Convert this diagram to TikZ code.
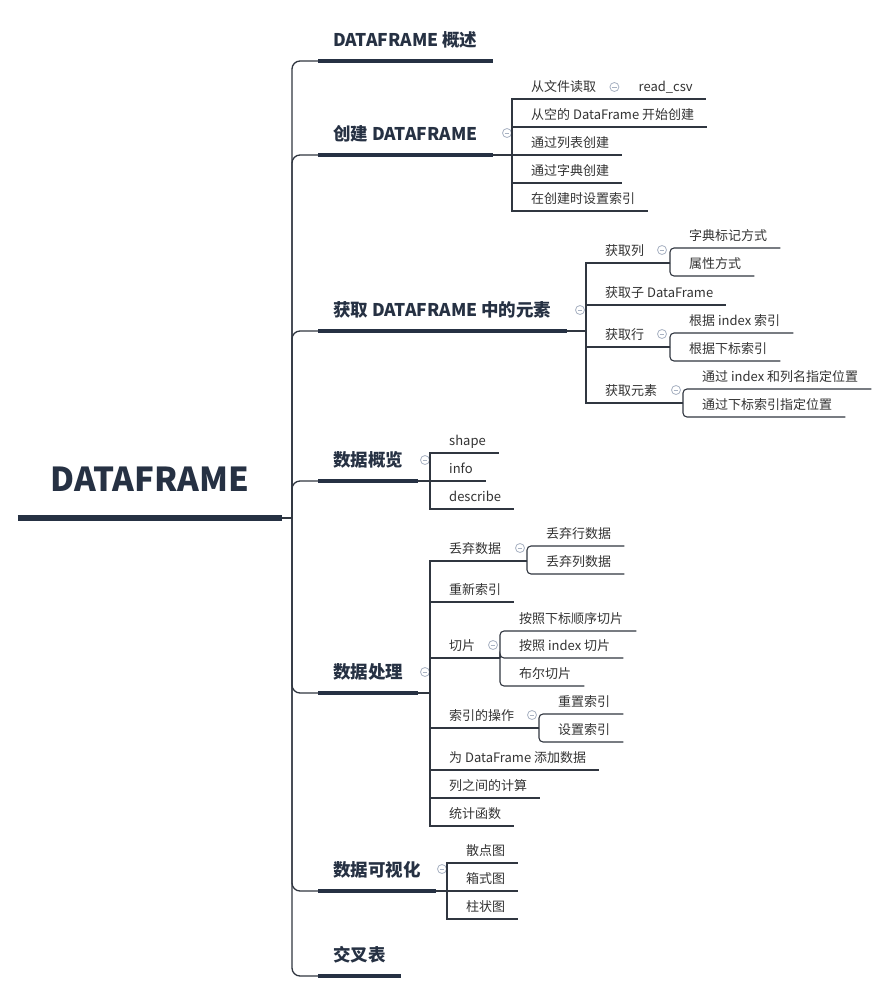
\documentclass[tikz,border=0pt]{standalone}
\usepackage{fontspec}
\setmainfont{Noto Sans CJK SC}
\usetikzlibrary{calc,positioning}
\definecolor{MapNavy}{RGB}{38,49,67}
\definecolor{MapInk}{RGB}{51,51,51}
\definecolor{MapLine}{RGB}{48,54,64}
\definecolor{MapFold}{RGB}{168,178,194}
\tikzset{
  dfm/root/.style={
    anchor=south,
    minimum width=264,
    inner xsep=0,
    inner ysep=26,
    text depth=0pt,
    text=MapNavy,
    font=\fontsize{33}{36}\selectfont\bfseries
  },
  dfm/branch/.style={
    anchor=south west,
    inner xsep=15,
    inner ysep=11.5,
    text height=13,
    text depth=3,
    text=MapNavy,
    font=\fontsize{17.5}{20}\selectfont\bfseries
  },
  dfm/leaf/.style={
    anchor=south west,
    inner xsep=13,
    inner ysep=4.5,
    text height=10,
    text depth=2.5,
    text=MapInk,
    font=\fontsize{13}{15}\selectfont,
    execute at begin node={\hspace*{6pt}}
  },
  dfm/fold/.style={
    circle,
    draw=MapFold,
    fill=white,
    line width=0.8,
    minimum size=9,
    inner sep=0,
    path picture={\draw[MapFold,line width=0.8] ([xshift=-2.3pt]path picture bounding box.center) -- ([xshift=2.3pt]path picture bounding box.center);}
  },
  dfm/rootbar/.style={line width=5.5, draw=MapNavy},
  dfm/bar/.style={line width=4, draw=MapNavy},
  dfm/spine/.style={line width=1.3, draw=MapLine, rounded corners=8},
  dfm/line/.style={line width=1.1, draw=MapLine},
  dfm/twig/.style={dfm/line, rounded corners=4}
}
\begin{document}
\begin{tikzpicture}[x=1pt,y=-1pt]
  \fill[white] (0,0) rectangle (886,993);
  \useasboundingbox (0,0) rectangle (886,993);

  \node[dfm/root] (root) at (150,518) {DATAFRAME};
  \coordinate (hub) at (292,518);
  \draw[dfm/rootbar] (root.south west) -- (root.south east);
  \draw[dfm/line] (root.south east) -- (hub);

  \node[dfm/branch] (b1) at (318,61) {DATAFRAME 概述};
  \node[dfm/branch] (b2) at (318,155) {创建 DATAFRAME};
  \node[dfm/branch] (b3) at (318,331) {获取 DATAFRAME 中的元素};
  \node[dfm/branch] (b4) at (318,481) {数据概览};
  \node[dfm/branch] (b5) at (318,693) {数据处理};
  \node[dfm/branch] (b6) at (318,891) {数据可视化};
  \node[dfm/branch] (b7) at (318,976) {交叉表};
  \foreach \b in {b1,b2,b3,b4,b5,b6,b7}{
    \draw[dfm/spine] (hub) |- (\b.south west);
    \draw[dfm/bar] (\b.south west) -- (\b.south east);
  }

  % 创建 DATAFRAME
  \coordinate (j2) at (512,155);
  \draw[dfm/line] (b2.south east) -- (j2);
  \node[dfm/fold] (f2) at ($(j2)+(-5,-22)$) {};
  \node[dfm/leaf] (c21) at (512,99) {从文件读取};
  \node[dfm/leaf] (c22) at (512,127) {从空的 DataFrame 开始创建};
  \node[dfm/leaf] (c23) at (512,155) {通过列表创建};
  \node[dfm/leaf] (c24) at (512,183) {通过字典创建};
  \node[dfm/leaf] (c25) at (512,211) {在创建时设置索引};
  \foreach \c in {c21,c22,c23,c24,c25}
    \draw[dfm/line] (j2) |- (\c.south east);
  \node[dfm/leaf] (g211) at ($(c21.south east)+(10,0)$) {read\_csv};
  \node[dfm/fold] (f21) at ($(c21.south east)+(5,-12)$) {};
  \draw[dfm/line] (c21.south east) -- (g211.south east);

  % 获取 DATAFRAME 中的元素
  \coordinate (j3) at (586,331);
  \draw[dfm/line] (b3.south east) -- (j3);
  \node[dfm/fold] (f3) at ($(j3)+(-6,-21)$) {};
  \node[dfm/leaf] (c31) at (586,263) {获取列};
  \node[dfm/leaf] (c32) at (586,305) {获取子 DataFrame};
  \node[dfm/leaf] (c33) at (586,347) {获取行};
  \node[dfm/leaf] (c34) at (586,403) {获取元素};
  \foreach \c in {c31,c32,c33,c34}
    \draw[dfm/line] (j3) |- (\c.south east);

  \coordinate (j31) at (670,263);
  \draw[dfm/line] (c31.south east) -- (j31);
  \node[dfm/fold] (f31) at ($(j31)+(-8,-13)$) {};
  \node[dfm/leaf] (g311) at (670,248) {字典标记方式};
  \node[dfm/leaf] (g312) at (670,276) {属性方式};
  \foreach \g in {g311,g312}
    \draw[dfm/twig] (j31) |- (\g.south east);

  \coordinate (j33) at (670,347);
  \draw[dfm/line] (c33.south east) -- (j33);
  \node[dfm/fold] (f33) at ($(j33)+(-8,-13)$) {};
  \node[dfm/leaf] (g331) at (670,333) {根据 index 索引};
  \node[dfm/leaf] (g332) at (670,361) {根据下标索引};
  \foreach \g in {g331,g332}
    \draw[dfm/twig] (j33) |- (\g.south east);

  \coordinate (j34) at (683,403);
  \draw[dfm/line] (c34.south east) -- (j34);
  \node[dfm/fold] (f34) at ($(j34)+(-7,-13)$) {};
  \node[dfm/leaf] (g341) at (683,389) {通过 index 和列名指定位置};
  \node[dfm/leaf] (g342) at (683,417) {通过下标索引指定位置};
  \foreach \g in {g341,g342}
    \draw[dfm/twig] (j34) |- (\g.south east);

  % 数据概览
  \coordinate (j4) at (430,481);
  \draw[dfm/line] (b4.south east) -- (j4);
  \node[dfm/fold] (f4) at ($(j4)+(-5,-21)$) {};
  \node[dfm/leaf] (c41) at (430,453) {shape};
  \node[dfm/leaf] (c42) at (430,481) {info};
  \node[dfm/leaf] (c43) at (430,509) {describe};
  \foreach \c in {c41,c42,c43}
    \draw[dfm/line] (j4) |- (\c.south east);

  % 数据处理
  \coordinate (j5) at (430,693);
  \draw[dfm/line] (b5.south east) -- (j5);
  \node[dfm/fold] (f5) at ($(j5)+(-5,-21)$) {};
  \node[dfm/leaf] (c51) at (430,561) {丢弃数据};
  \node[dfm/leaf] (c52) at (430,602) {重新索引};
  \node[dfm/leaf] (c53) at (430,658) {切片};
  \node[dfm/leaf] (c54) at (430,728) {索引的操作};
  \node[dfm/leaf] (c55) at (430,770) {为 DataFrame 添加数据};
  \node[dfm/leaf] (c56) at (430,798) {列之间的计算};
  \node[dfm/leaf] (c57) at (430,826) {统计函数};
  \foreach \c in {c51,c52,c53,c54,c55,c56,c57}
    \draw[dfm/line] (j5) |- (\c.south east);

  \coordinate (j51) at (527,561);
  \draw[dfm/line] (c51.south east) -- (j51);
  \node[dfm/fold] (f51) at ($(j51)+(-7,-13)$) {};
  \node[dfm/leaf] (g511) at (527,546) {丢弃行数据};
  \node[dfm/leaf] (g512) at (527,574) {丢弃列数据};
  \foreach \g in {g511,g512}
    \draw[dfm/twig] (j51) |- (\g.south east);

  \coordinate (j53) at (500,658);
  \draw[dfm/line] (c53.south east) -- (j53);
  \node[dfm/fold] (f53) at ($(j53)+(-7,-13)$) {};
  \node[dfm/leaf] (g531) at (500,631) {按照下标顺序切片};
  \node[dfm/leaf] (g532) at (500,658) {按照 index 切片};
  \node[dfm/leaf] (g533) at (500,686) {布尔切片};
  \foreach \g in {g531,g532,g533}
    \draw[dfm/twig] (j53) |- (\g.south east);

  \coordinate (j54) at (539,728);
  \draw[dfm/line] (c54.south east) -- (j54);
  \node[dfm/fold] (f54) at ($(j54)+(-7,-13)$) {};
  \node[dfm/leaf] (g541) at (539,714) {重置索引};
  \node[dfm/leaf] (g542) at (539,742) {设置索引};
  \foreach \g in {g541,g542}
    \draw[dfm/twig] (j54) |- (\g.south east);

  % 数据可视化
  \coordinate (j6) at (447,891);
  \draw[dfm/line] (b6.south east) -- (j6);
  \node[dfm/fold] (f6) at ($(j6)+(-5,-22)$) {};
  \node[dfm/leaf] (c61) at (447,863) {散点图};
  \node[dfm/leaf] (c62) at (447,891) {箱式图};
  \node[dfm/leaf] (c63) at (447,919) {柱状图};
  \foreach \c in {c61,c62,c63}
    \draw[dfm/line] (j6) |- (\c.south east);
\end{tikzpicture}
\end{document}
